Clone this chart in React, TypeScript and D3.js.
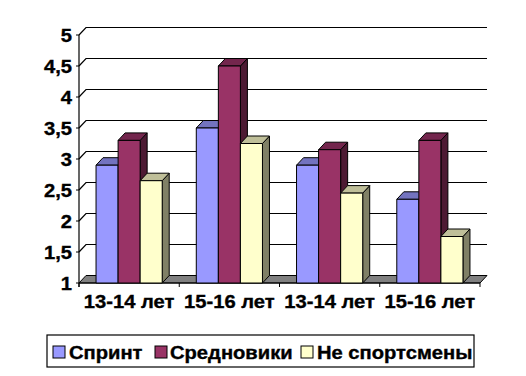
import React from "react";
import * as d3 from "d3";

const categories = ["13-14 лет", "15-16 лет", "13-14 лет", "15-16 лет"];
const seriesNames = ["Спринт", "Средновики", "Не спортсмены"];
const sprint = [2.9, 3.5, 2.9, 2.35];
const srednoviki = [3.3, 4.5, 3.15, 3.3];
const neSport = [2.65, 3.25, 2.45, 1.75];
const yTicks = [1, 1.5, 2, 2.5, 3, 3.5, 4, 4.5, 5];

const seriesValues = [sprint, srednoviki, neSport];
const front = ["#9999FF", "#993366", "#FFFFCC"];
const top = ["#7373BF", "#73264D", "#BFBF99"];
const side = ["#4D4D80", "#4D1A33", "#808066"];

const DX = 7;
const DY = -7.5;
const FONT = "'Liberation Sans', Arial, sans-serif";
const SX = 1.12;
const FS = 18;

export default function App() {
  const y = d3.scaleLinear().domain([1, 5]).range([283, 35]);
  const x = d3.scaleBand<number>().domain(d3.range(categories.length)).range([79, 480]).paddingInner(0).paddingOuter(0);
  const bw = x.bandwidth();
  const xs = d3.scaleBand<number>().domain(d3.range(seriesNames.length)).range([bw * 0.17, bw * 0.83]).padding(0);
  const barW = xs.bandwidth();
  const y0 = y(1);
  const fmt = (v: number) => String(v).replace(".", ",");

  const legendItems = [
    { sx: 53, tx: 69 },
    { sx: 155, tx: 170 },
    { sx: 301, tx: 317 },
  ];

  const textProps = {
    fontFamily: FONT,
    fontWeight: "bold" as const,
    fontSize: FS,
    fill: "#000",
    stroke: "#000",
    strokeWidth: 0.35,
  };

  return (
    <svg width={526} height={376} style={{ display: "block", position: "absolute", left: 0, top: 0 }}>
      <rect x={0} y={0} width={526} height={376} fill="#fff" />
      {yTicks.map((t) => (
        <g key={"g" + t}>
          {t !== 1 && (
            <polyline
              points={`${79},${y(t)} ${79 + DX},${y(t) + DY} ${487},${y(t) + DY}`}
              fill="none"
              stroke="#000"
              strokeWidth={1.2}
            />
          )}
          <line x1={76} x2={79} y1={y(t)} y2={y(t)} stroke="#000" />
          <text transform={`translate(72,${y(t) + 6.5}) scale(${SX},1)`} textAnchor="end" {...textProps}>
            {fmt(t)}
          </text>
        </g>
      ))}
      <polygon
        points={`${79},${y0} ${79 + DX},${y0 + DY} ${487},${y0 + DY} ${480},${y0}`}
        fill="#808080"
        stroke="#000"
        strokeWidth={1}
      />
      <line x1={79} x2={79} y1={y(5)} y2={y0 + 4} stroke="#000" strokeWidth={1.2} />
      <line x1={79} x2={480} y1={y0} y2={y0} stroke="#000" strokeWidth={1.2} />
      {d3.range(categories.length + 1).map((i) => {
        const xx = 79 + i * bw;
        return <line key={"t" + i} x1={xx} x2={xx} y1={y0} y2={y0 + 4} stroke="#000" />;
      })}
      {categories.map((c, ci) =>
        seriesValues.map((vals, si) => {
          const v = vals[ci];
          const x0 = (x(ci) as number) + (xs(si) as number);
          const x1 = x0 + barW;
          const yt = y(v);
          return (
            <g key={`b${ci}-${si}`} stroke="#000" strokeWidth={1} strokeLinejoin="round">
              <polygon points={`${x1},${y0} ${x1 + DX},${y0 + DY} ${x1 + DX},${yt + DY} ${x1},${yt}`} fill={side[si]} />
              <polygon points={`${x0},${yt} ${x0 + DX},${yt + DY} ${x1 + DX},${yt + DY} ${x1},${yt}`} fill={top[si]} />
              <rect x={x0} y={yt} width={barW} height={y0 - yt} fill={front[si]} />
            </g>
          );
        })
      )}
      {categories.map((c, ci) => (
        <text
          key={"c" + ci}
          transform={`translate(${(x(ci) as number) + bw / 2},308) scale(${SX},1)`}
          textAnchor="middle"
          {...textProps}
        >
          {c}
        </text>
      ))}
      <rect x={47} y={335} width={427} height={32} fill="#fff" stroke="#000" strokeWidth={1.2} />
      {seriesNames.map((s, si) => (
        <g key={"l" + si}>
          <rect x={legendItems[si].sx} y={346} width={12} height={12} fill={front[si]} stroke="#000" strokeWidth={1} />
          <text transform={`translate(${legendItems[si].tx},358.5) scale(${SX},1)`} {...textProps}>
            {s}
          </text>
        </g>
      ))}
    </svg>
  );
}
